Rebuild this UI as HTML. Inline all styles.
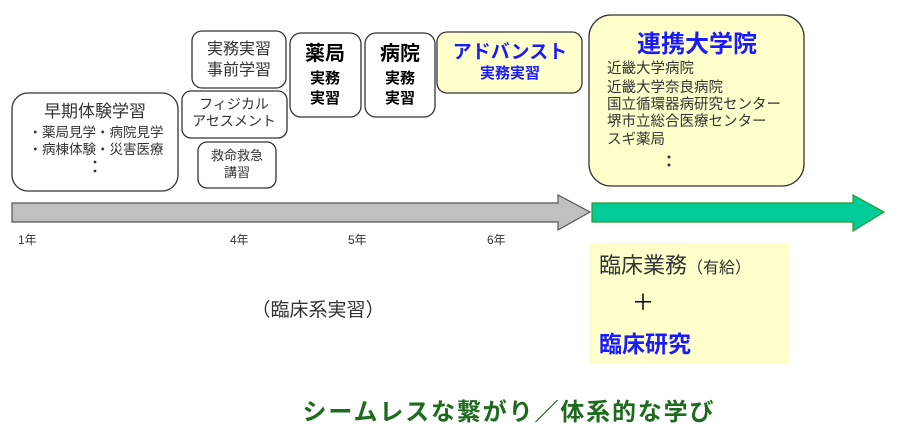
<!DOCTYPE html>
<html><head><meta charset="utf-8"><style>
body{margin:0;background:#fff;}
svg text{font-family:"Liberation Sans","Noto Sans CJK JP",sans-serif;}
</style></head><body>
<svg width="900" height="430" viewBox="0 0 900 430" xmlns="http://www.w3.org/2000/svg">
<g stroke="#333" stroke-width="1.3" fill="#fff">
<rect x="12" y="93" width="166" height="98" rx="16"/>
<rect x="192" y="31" width="94" height="57" rx="10"/>
<rect x="182" y="91" width="105" height="47" rx="9"/>
<rect x="198" y="142" width="78" height="46" rx="9"/>
<rect x="290" y="33" width="71" height="84" rx="11"/>
<rect x="365" y="33" width="70" height="84" rx="11"/>
<rect x="437" y="32" width="145" height="61" rx="10" fill="#ffffcc"/>
<rect x="589" y="15" width="215" height="171" rx="22" fill="#ffffcc"/>
</g>
<polygon points="12,203 558,203 558,195 590,212 558,230 558,222 12,222" fill="#c0c0c0" stroke="#555" stroke-width="1.2"/>
<polygon points="592,203 853,203 853,195 884,212 853,231 853,222 592,222" fill="#00cc99" stroke="#2a9a2a" stroke-width="1.2"/>
<rect x="589" y="243" width="200" height="121" fill="#ffffcc"/>
<g fill="#333" text-anchor="middle">
<text x="95" y="117" font-size="17">早期体験学習</text>
<text x="96" y="137" font-size="13.5">・薬局見学・病院見学</text>
<text x="96" y="154" font-size="13.5">・病棟体験・災害医療</text>
<circle cx="95" cy="162" r="1.4"/>
<circle cx="95" cy="171" r="1.4"/>
<text x="239" y="54" font-size="16">実務実習</text>
<text x="239" y="75" font-size="16">事前学習</text>
<text x="234" y="109" font-size="14">フィジカル</text>
<text x="234" y="126" font-size="14">アセスメント</text>
<text x="237" y="160" font-size="13">救命救急</text>
<text x="237" y="177" font-size="13">講習</text>
</g>
<g fill="#000" text-anchor="middle" font-weight="bold">
<text x="325" y="60" font-size="20">薬局</text>
<text x="325" y="83" font-size="15">実務</text>
<text x="325" y="103" font-size="15">実習</text>
<text x="400" y="60" font-size="20">病院</text>
<text x="400" y="83" font-size="15">実務</text>
<text x="400" y="103" font-size="15">実習</text>
</g>
<g fill="#1a1aff" text-anchor="middle" font-weight="bold">
<text x="510" y="58" font-size="19">アドバンスト</text>
<text x="510" y="78" font-size="15">実務実習</text>
<text x="697" y="52" font-size="24">連携大学院</text>
</g>
<g fill="#333" font-size="14.5">
<text x="607" y="73">近畿大学病院</text>
<text x="607" y="92">近畿大学奈良病院</text>
<text x="607" y="109">国立循環器病研究センター</text>
<text x="607" y="126">堺市立総合医療センター</text>
<text x="607" y="144">スギ薬局</text>
</g>
<circle cx="669" cy="157" r="1.5" fill="#333"/>
<circle cx="669" cy="165" r="1.5" fill="#333"/>
<g fill="#333" font-size="12">
<text x="18" y="244">1年</text>
<text x="230" y="244">4年</text>
<text x="348" y="244">5年</text>
<text x="487" y="244">6年</text>
</g>
<text x="318" y="316" font-size="19" fill="#333" text-anchor="middle">（臨床系実習）</text>
<text x="599" y="273" font-size="22" fill="#333">臨床業務<tspan font-size="16">（有給）</tspan></text>
<text x="643" y="310" font-size="22" fill="#000" text-anchor="middle">＋</text>
<text x="599" y="352" font-size="23" fill="#1a1aff" font-weight="bold">臨床研究</text>
<text x="508" y="420" font-size="24" fill="#1e6b1e" font-weight="bold" text-anchor="middle" textLength="411">シームレスな繋がり／体系的な学び</text>
</svg>
</body></html>
